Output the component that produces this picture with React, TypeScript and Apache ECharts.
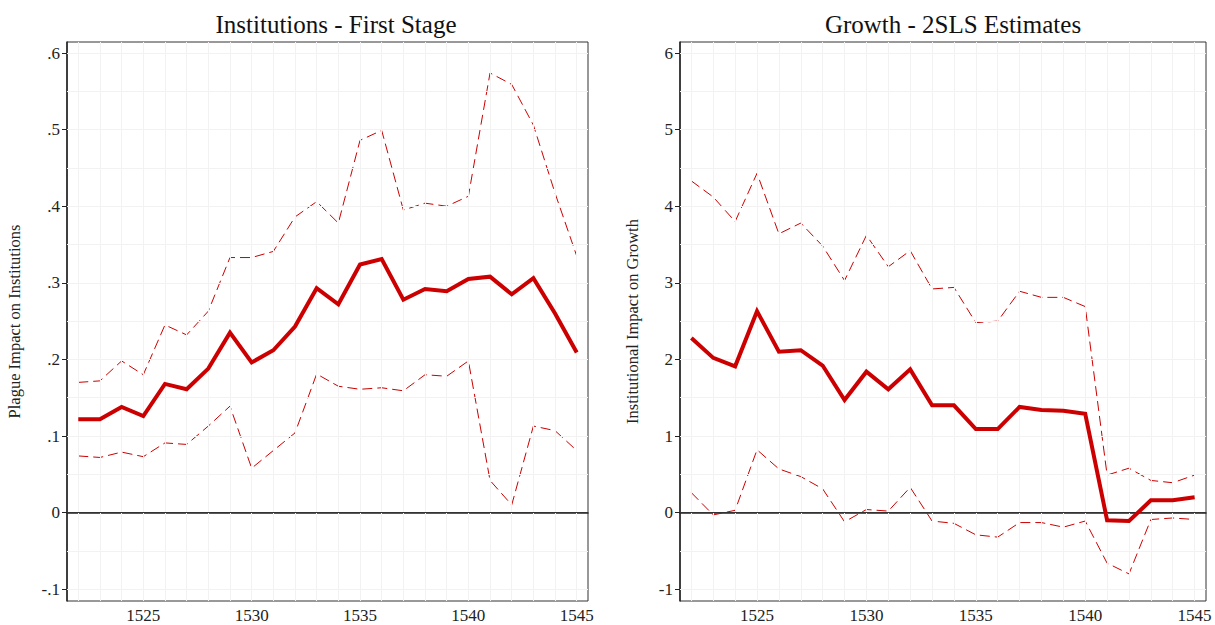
import React, { useEffect, useRef } from "react";
import * as echarts from "echarts";

const years = [1522,1523,1524,1525,1526,1527,1528,1529,1530,1531,1532,1533,1534,1535,1536,1537,1538,1539,1540,1541,1542,1543,1544,1545];

const instEst = [0.122,0.122,0.138,0.126,0.168,0.161,0.188,0.235,0.196,0.212,0.243,0.293,0.272,0.324,0.331,0.278,0.292,0.289,0.305,0.308,0.285,0.306,0.260,0.209];
const instUpper = [0.170,0.172,0.198,0.180,0.245,0.232,0.263,0.333,0.333,0.341,0.386,0.406,0.378,0.486,0.499,0.395,0.404,0.400,0.413,0.574,0.559,0.506,0.417,0.335];
const instLower = [0.074,0.072,0.079,0.073,0.091,0.089,0.113,0.139,0.058,0.081,0.104,0.181,0.165,0.161,0.163,0.159,0.180,0.178,0.198,0.042,0.010,0.113,0.107,0.081];

const growEst = [2.28,2.02,1.91,2.63,2.10,2.12,1.92,1.47,1.84,1.61,1.87,1.40,1.40,1.09,1.09,1.38,1.34,1.33,1.29,-0.10,-0.11,0.16,0.16,0.20];
const growUpper = [4.33,4.12,3.80,4.43,3.64,3.78,3.48,3.03,3.62,3.21,3.42,2.92,2.94,2.48,2.50,2.89,2.81,2.81,2.69,0.49,0.58,0.42,0.39,0.49];
const growLower = [0.26,-0.03,0.03,0.82,0.57,0.47,0.31,-0.12,0.04,0.02,0.33,-0.11,-0.14,-0.29,-0.32,-0.13,-0.13,-0.19,-0.11,-0.66,-0.80,-0.09,-0.07,-0.09];

const xTickLabels = [1525,1530,1535,1540,1545];
const instTicks = [-0.1,0,0.1,0.2,0.3,0.4,0.5,0.6];
const instGrid = [-0.1,-0.05,0.05,0.1,0.15,0.2,0.25,0.3,0.35,0.4,0.45,0.5,0.55,0.6];
const growTicks = [-1,0,1,2,3,4,5,6];
const growGrid = [-1,-0.5,0.5,1,1.5,2,2.5,3,3.5,4,4.5,5,5.5,6];

const RED = "#cc0000";
const FONT = "Liberation Serif";

function fmtInst(v: number) {
  if (Math.abs(v) < 1e-9) return "0";
  return v.toFixed(1).replace(/^0\./, ".").replace(/^-0\./, "-.");
}

export default function App() {
  const ref = useRef<HTMLDivElement>(null);
  useEffect(() => {
    if (!ref.current) return;
    const chart = echarts.init(ref.current, undefined, { renderer: "svg" });
    const pair = (arr: number[]) => years.map((y, i) => [y, arr[i]]);
    const gridSeries = (idx: number, yVals: number[]) => ({
      type: "line",
      xAxisIndex: idx,
      yAxisIndex: idx,
      data: [],
      silent: true,
      z: 1,
      markLine: {
        silent: true,
        symbol: "none",
        animation: false,
        label: { show: false },
        lineStyle: { color: "#f2f2f2", width: 1, type: "solid" },
        data: [
          ...years.map((y) => ({ xAxis: y })),
          ...yVals.map((v) => ({ yAxis: v })),
        ],
      },
    });
    const zeroSeries = (idx: number) => ({
      type: "line",
      xAxisIndex: idx,
      yAxisIndex: idx,
      data: [],
      silent: true,
      z: 2,
      markLine: {
        silent: true,
        symbol: "none",
        animation: false,
        label: { show: false },
        lineStyle: { color: "#333333", width: 1, type: "solid" },
        data: [{ yAxis: 0 }],
      },
    });
    const lineS = (idx: number, arr: number[], main: boolean) => ({
      type: "line",
      xAxisIndex: idx,
      yAxisIndex: idx,
      data: pair(arr),
      symbol: "none",
      z: main ? 5 : 4,
      lineStyle: main
        ? { color: RED, width: 4, type: "solid", join: "miter" }
        : { color: RED, width: 1, type: [10, 5] },
    });
    const xAxisCfg = (idx: number) => ({
      type: "value",
      gridIndex: idx,
      min: 1521.48,
      max: 1545.52,
      splitLine: { show: false },
      axisLine: { show: true, lineStyle: { color: "#222", width: 1.5 } },
      axisTick: { show: true, length: 5, customValues: xTickLabels, lineStyle: { color: "#222" } },
      axisLabel: {
        customValues: xTickLabels,
        fontFamily: FONT,
        fontSize: 17,
        color: "#222",
        margin: 6,
        formatter: (v: number) => String(Math.round(v)),
      },
    });
    const yAxisCfg = (idx: number, min: number, max: number, ticks: number[], name: string, gap: number, fmt: (v: number) => string) => ({
      type: "value",
      gridIndex: idx,
      min,
      max,
      name,
      nameLocation: "middle",
      nameGap: gap,
      nameTextStyle: { fontFamily: FONT, fontSize: 16.5, color: "#222" },
      splitLine: { show: false },
      axisLine: { show: true, lineStyle: { color: "#222", width: 1.5 } },
      axisTick: { show: true, length: 5, customValues: ticks, lineStyle: { color: "#222" } },
      axisLabel: { customValues: ticks, fontFamily: FONT, fontSize: 17, color: "#222", margin: 7, formatter: fmt },
    });
    chart.setOption({
      animation: false,
      backgroundColor: "#ffffff",
      title: [
        { text: "Institutions - First Stage", left: 331, top: 7, textAlign: "center", textStyle: { fontFamily: FONT, fontSize: 25, fontWeight: "normal", color: "#111" } },
        { text: "Growth - 2SLS Estimates", left: 948, top: 7, textAlign: "center", textStyle: { fontFamily: FONT, fontSize: 25, fontWeight: "normal", color: "#111" } },
      ],
      grid: [
        { left: 67, top: 42, width: 521, height: 559, show: true, borderColor: "#333", borderWidth: 1, backgroundColor: "transparent" },
        { left: 680, top: 42, width: 526, height: 559, show: true, borderColor: "#333", borderWidth: 1, backgroundColor: "transparent" },
      ],
      xAxis: [xAxisCfg(0), xAxisCfg(1)],
      yAxis: [
        yAxisCfg(0, -0.1154, 0.6144, instTicks, "Plague Impact on Institutions", 44, fmtInst),
        yAxisCfg(1, -1.154, 6.144, growTicks, "Institutional Impact on Growth", 39, (v: number) => String(Math.round(v))),
      ],
      series: [
        gridSeries(0, instGrid),
        gridSeries(1, growGrid),
        zeroSeries(0),
        zeroSeries(1),
        lineS(0, instUpper, false),
        lineS(0, instLower, false),
        lineS(0, instEst, true),
        lineS(1, growUpper, false),
        lineS(1, growLower, false),
        lineS(1, growEst, true),
      ],
    });
    return () => chart.dispose();
  }, []);
  return (
    <div
      ref={ref}
      style={{ position: "fixed", left: 0, top: 0, width: 1215, height: 625, background: "#fff" }}
    />
  );
}
